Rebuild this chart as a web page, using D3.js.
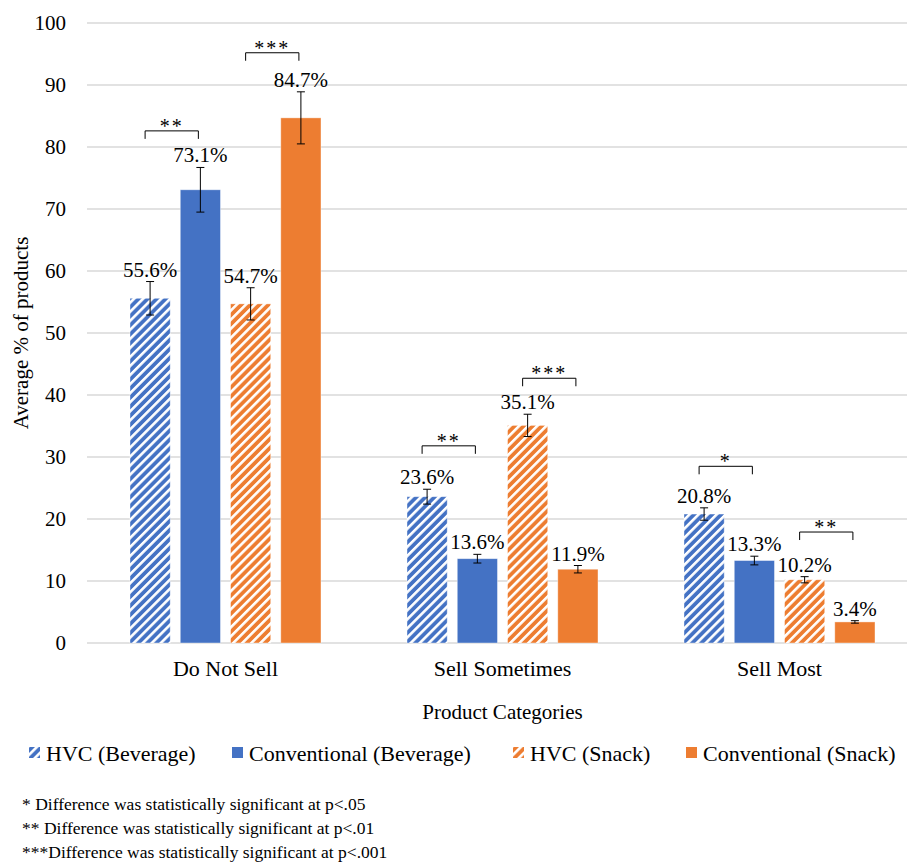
<!DOCTYPE html>
<html>
<head>
<meta charset="utf-8">
<script src="https://cdn.jsdelivr.net/npm/d3@7"></script>
<style>
  body { margin: 0; background: #fff; }
  svg text { font-family: 'Liberation Serif', Tinos, 'Times New Roman', Times, 'DejaVu Serif', serif !important; }
</style>
</head>
<body>
<svg id="chart" width="907" height="862"></svg>
<script>
// data
var categories = ["Do Not Sell", "Sell Sometimes", "Sell Most"];
var seriesNames = ["HVC (Beverage)", "Conventional (Beverage)", "HVC (Snack)", "Conventional (Snack)"];
var hvcBeverage = [55.6, 23.6, 20.8];
var convBeverage = [73.1, 13.6, 13.3];
var hvcSnack = [54.7, 35.1, 10.2];
var convSnack = [84.7, 11.9, 3.4];
var errHvcBeverage = [2.7, 1.2, 1.0];
var errConvBeverage = [3.6, 0.7, 0.7];
var errHvcSnack = [2.6, 1.8, 0.5];
var errConvSnack = [4.2, 0.6, 0.2];
var yTicks = [0, 10, 20, 30, 40, 50, 60, 70, 80, 90, 100];
// significance brackets: category, first series, second series, level, stars
var sigCategory = [0, 0, 1, 1, 2, 2];
var sigFrom = [0, 2, 0, 2, 0, 2];
var sigTo = [1, 3, 1, 3, 1, 3];
var sigLevel = [82.6, 95.2, 31.8, 42.7, 28.5, 17.9];
var sigStars = ["**", "***", "**", "***", "*", "**"];
var footnotes = [
  "* Difference was statistically significant at p<.05",
  "** Difference was statistically significant at p<.01",
  "***Difference was statistically significant at p<.001"
];

var values = [hvcBeverage, convBeverage, hvcSnack, convSnack];
var errors = [errHvcBeverage, errConvBeverage, errHvcSnack, errConvSnack];
var colors = ["#4472C4", "#4472C4", "#ED7D31", "#ED7D31"];
var hatched = [true, false, true, false];

var svg = d3.select("#chart");

var defs = svg.append("defs");
["#4472C4", "#ED7D31"].forEach(function(c, i) {
  var p = defs.append("pattern")
    .attr("id", "hatch" + i)
    .attr("patternUnits", "userSpaceOnUse")
    .attr("width", 6.4).attr("height", 6.4)
    .attr("patternTransform", "rotate(45)");
  p.append("rect").attr("width", 6.4).attr("height", 6.4).attr("fill", c);
  p.append("rect").attr("x", 0).attr("width", 2.6).attr("height", 6.4).attr("fill", "#fff");
});
function fillFor(i) {
  if (!hatched[i]) return colors[i];
  return colors[i] === "#4472C4" ? "url(#hatch0)" : "url(#hatch1)";
}

var x0 = d3.scaleBand().domain(categories).range([87, 918]).paddingInner(0).paddingOuter(0);
var x1 = d3.scaleBand().domain(d3.range(4)).range([43, 277 - 43]).paddingInner(0.2);
var y = d3.scaleLinear().domain([0, 100]).range([643, 23]);

// gridlines
svg.append("g").selectAll("line").data(yTicks).join("line")
  .attr("x1", 87).attr("x2", 907)
  .attr("y1", function(d) { return y(d); }).attr("y2", function(d) { return y(d); })
  .attr("stroke", "#d9d9d9").attr("stroke-width", 1.3);

// y axis labels
var yAxis = d3.axisLeft(y).tickValues(yTicks).tickSize(0).tickPadding(0);
var gy = svg.append("g").attr("transform", "translate(66,0)").call(yAxis);
gy.select(".domain").remove();
gy.selectAll("text").attr("font-size", 21).attr("fill", "#000");

// x axis labels
var xAxis = d3.axisBottom(x0).tickSize(0).tickPadding(0);
var gx = svg.append("g").attr("transform", "translate(0,660)").call(xAxis);
gx.select(".domain").remove();
gx.selectAll("text").attr("font-size", 22).attr("fill", "#000");

// bars
var groups = svg.append("g").selectAll("g").data(categories).join("g")
  .attr("transform", function(d) { return "translate(" + x0(d) + ",0)"; });

groups.each(function(cat, ci) {
  var g = d3.select(this);
  for (var s = 0; s < 4; s++) {
    var v = values[s][ci], e = errors[s][ci];
    var bx = x1(s), bw = x1.bandwidth(), cx = bx + bw / 2;
    g.append("rect")
      .attr("x", bx).attr("y", y(v))
      .attr("width", bw).attr("height", y(0) - y(v))
      .attr("fill", fillFor(s))
      .attr("stroke", "#fff").attr("stroke-opacity", 0.5).attr("stroke-width", 0.8);
    // error bar
    g.append("line").attr("x1", cx).attr("x2", cx)
      .attr("y1", y(v - e)).attr("y2", y(v + e))
      .attr("stroke", "#000").attr("stroke-width", 1);
    [v - e, v + e].forEach(function(t) {
      g.append("line").attr("x1", cx - 4).attr("x2", cx + 4)
        .attr("y1", y(t)).attr("y2", y(t))
        .attr("stroke", "#000").attr("stroke-width", 1);
    });
    g.append("text")
      .attr("x", cx).attr("y", y(v + e) - 5)
      .attr("text-anchor", "middle").attr("font-size", 21)
      .text(v.toFixed(1) + "%");
  }
});

// significance brackets
sigLevel.forEach(function(lv, i) {
  var base = x0(categories[sigCategory[i]]);
  var xa = base + x1(sigFrom[i]) + x1.bandwidth() / 2 - 5;
  var xb = base + x1(sigTo[i]) + x1.bandwidth() / 2 - 2;
  var yy = y(lv);
  svg.append("path")
    .attr("d", "M" + xa + "," + (yy + 8) + "V" + yy + "H" + xb + "V" + (yy + 8))
    .attr("fill", "none").attr("stroke", "#000").attr("stroke-width", 1);
  svg.append("text")
    .attr("x", (xa + xb) / 2).attr("y", yy + 2)
    .attr("text-anchor", "middle").attr("font-size", 20)
    .attr("letter-spacing", 2)
    .text(sigStars[i]);
});

// axis titles
svg.append("text")
  .attr("transform", "translate(28," + y(50) + ") rotate(-90)")
  .attr("text-anchor", "middle").attr("font-size", 21)
  .text("Average % of products");
svg.append("text")
  .attr("x", x0(categories[1]) + x0.bandwidth() / 2).attr("y", 719)
  .attr("text-anchor", "middle").attr("font-size", 21)
  .text("Product Categories");

// legend
var legendX = [29, 232, 513, 686];
var legend = svg.append("g").selectAll("g").data(seriesNames).join("g")
  .attr("transform", function(d, i) { return "translate(" + legendX[i] + ",753)"; });
legend.append("rect")
  .attr("x", 0).attr("y", -6).attr("width", 11).attr("height", 11)
  .attr("fill", function(d, i) { return fillFor(i); });
legend.append("text")
  .attr("x", 17).attr("y", 8).attr("font-size", 22)
  .text(function(d) { return d; });

// footnotes
svg.append("g").selectAll("text").data(footnotes).join("text")
  .attr("x", 22).attr("y", function(d, i) { return 810 + i * 24; })
  .attr("font-size", 17.5)
  .text(function(d) { return d; });
</script>
</body>
</html>
